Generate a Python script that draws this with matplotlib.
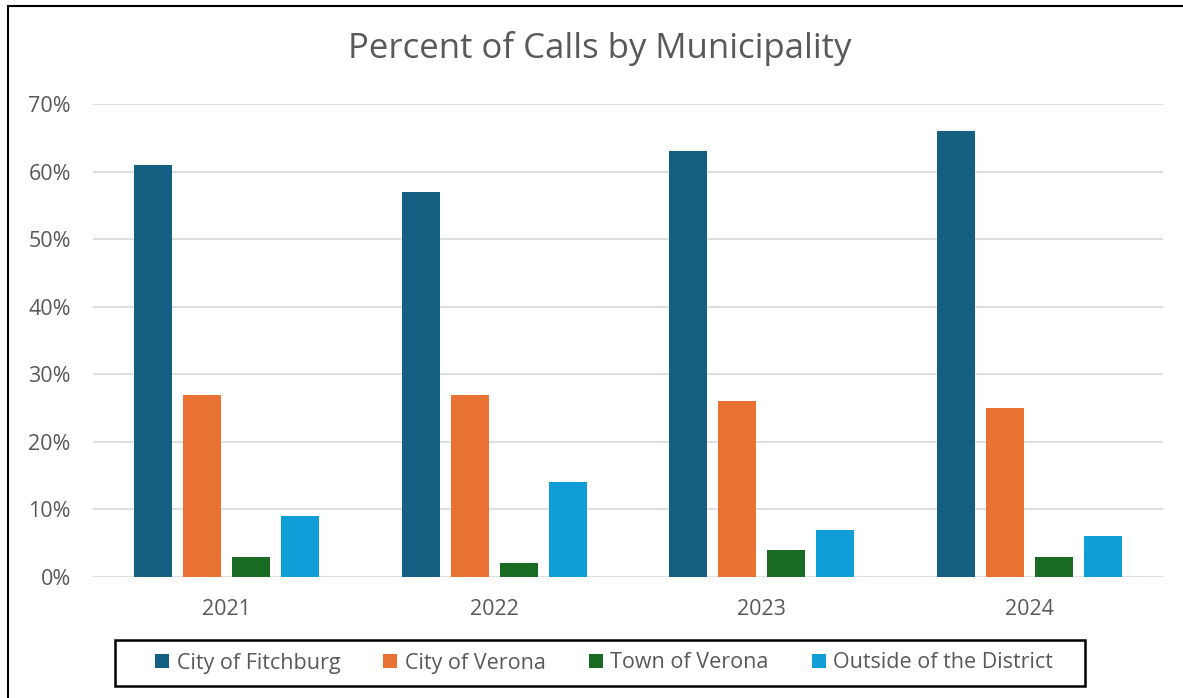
import numpy as np
import matplotlib.pyplot as plt
from matplotlib.patches import Rectangle
from matplotlib.ticker import PercentFormatter

# --- data ---
years = ['2021', '2022', '2023', '2024']
fitchburg = [61, 57, 63, 66]
city_verona = [27, 27, 26, 25]
town_verona = [3, 2, 4, 3]
outside = [9, 14, 7, 6]

series = [
    ('City of Fitchburg', fitchburg, '#156082'),
    ('City of Verona', city_verona, '#E97132'),
    ('Town of Verona', town_verona, '#196B24'),
    ('Outside of the District', outside, '#0F9ED5'),
]

plt.rcParams['font.family'] = ['Open Sans', 'DejaVu Sans']
text_color = '#595959'
W, H = 1183, 698

fig = plt.figure(figsize=(W / 100, H / 100), dpi=100)
ax = fig.add_axes([93 / W, 1 - 577 / H, 1070 / W, 473 / H])

x = np.arange(len(years))
step = 0.183
width = 0.142
for i, (name, vals, color) in enumerate(series):
    ax.bar(x + (i - 1.5) * step, vals, width, color=color, label=name, zorder=3)

ax.set_xlim(-0.5, len(years) - 0.5)
ax.set_ylim(0, 70)
ax.set_yticks(range(0, 71, 10))
ax.yaxis.set_major_formatter(PercentFormatter(decimals=0))
ax.set_xticks(x)
ax.set_xticklabels(years)
ax.tick_params(length=0, labelsize=15.5, colors=text_color)
ax.tick_params(axis='y', pad=16)
ax.tick_params(axis='x', pad=16)
ax.grid(axis='y', color='#D9D9D9', linewidth=1.2, zorder=0)
for s in ax.spines.values():
    s.set_visible(False)

fig.text(0.507, 1 - 49 / H, 'Percent of Calls by Municipality',
         ha='center', va='center', fontsize=25, color=text_color)

leg = fig.legend(loc='center', bbox_to_anchor=(604 / W, 1 - 663 / H),
                 ncol=4, frameon=False, fontsize=15.5,
                 handlelength=0.65, handleheight=0.65, handletextpad=0.35,
                 columnspacing=2.0, borderpad=0.45, borderaxespad=0,
                 labelcolor=text_color)

# box around the legend
fig.patches.append(Rectangle((115 / W, 1 - 686 / H), 970 / W, 46 / H,
                             transform=fig.transFigure, fill=False,
                             edgecolor='black', linewidth=1.8))

# outer chart border (left and top edges)
fig.patches.append(Rectangle((8 / W, -0.1), 1.2, 1.1 - 6 / H,
                             transform=fig.transFigure, fill=False,
                             edgecolor='black', linewidth=1.5))

fig.savefig('out.png', dpi=100, facecolor='white')
